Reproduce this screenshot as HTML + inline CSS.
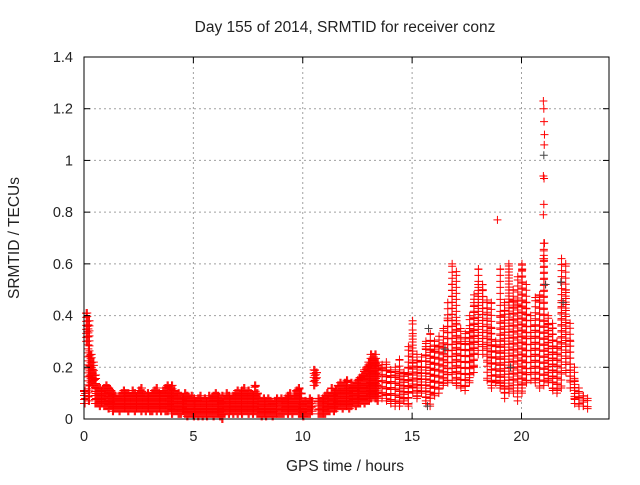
<!DOCTYPE html>
<html><head><meta charset="utf-8"><style>
body{margin:0;background:#fff;}
svg text{font-family:"Liberation Sans",sans-serif;font-size:14.5px;fill:#222;}
svg text.big{font-size:15.5px;}
</style></head><body>
<svg id="chart" width="640" height="480">
<text class="big" x="345" y="32" text-anchor="middle">Day 155 of 2014, SRMTID for receiver conz</text>
<text class="big" x="345" y="471" text-anchor="middle">GPS time / hours</text>
<text class="big" transform="translate(19,238) rotate(-90)" text-anchor="middle">SRMTID / TECUs</text>
<g id="grid"></g><g id="marks"></g><g id="axes"></g>
</svg>
<script>
const xTicks=[0,5,10,15,20];
const yTicks=[0,0.2,0.4,0.6,0.8,1,1.2,1.4];
const yTickLabels=["0","0.2","0.4","0.6","0.8","1","1.2","1.4"];
const startHour=0, stepHour=0.1;
const srmtidHigh=[0.11,0.41,0.38,0.25,0.22,0.17,0.12,0.12,0.11,0.12,
0.13,0.12,0.11,0.10,0.09,0.08,0.09,0.10,0.11,0.10,
0.10,0.09,0.11,0.10,0.09,0.11,0.12,0.10,0.09,0.10,
0.09,0.10,0.11,0.12,0.10,0.09,0.11,0.12,0.13,0.12,
0.13,0.11,0.09,0.10,0.09,0.08,0.10,0.09,0.08,0.09,
0.08,0.07,0.08,0.09,0.07,0.08,0.07,0.09,0.08,0.09,
0.10,0.09,0.08,0.09,0.08,0.10,0.09,0.08,0.09,0.10,
0.11,0.10,0.11,0.12,0.10,0.11,0.10,0.09,0.13,0.10,
0.08,0.07,0.08,0.07,0.08,0.07,0.06,0.07,0.08,0.07,
0.08,0.07,0.08,0.09,0.10,0.08,0.10,0.11,0.12,0.10,
0.06,0.07,0.06,0.08,0.07,0.19,0.18,0.08,0.07,0.08,
0.09,0.10,0.09,0.12,0.10,0.11,0.13,0.14,0.13,0.14,
0.15,0.12,0.14,0.13,0.14,0.15,0.16,0.17,0.19,0.20,
0.22,0.25,0.24,0.25,0.22,0.20,0.21,0.22,0.20,0.19,
0.18,0.17,0.20,0.23,0.19,0.17,0.18,0.20,0.28,0.38,
0.33,0.25,0.22,0.20,0.24,0.28,0.30,0.27,0.33,0.30,
0.27,0.28,0.32,0.29,0.35,0.39,0.45,0.52,0.60,0.57,
0.38,0.35,0.31,0.30,0.33,0.35,0.40,0.45,0.48,0.52,
0.58,0.52,0.50,0.46,0.43,0.45,0.35,0.30,0.28,0.40,
0.58,0.45,0.42,0.60,0.58,0.50,0.46,0.44,0.55,0.60,
0.58,0.52,0.45,0.40,0.32,0.36,0.47,0.46,0.48,0.68,
0.62,0.40,0.37,0.37,0.35,0.30,0.28,0.45,0.62,0.60,
0.50,0.37,0.30,0.20,0.15,0.12,0.10,0.09,0.09,0.08];
const srmtidLow=[0.06,0.30,0.07,0.14,0.13,0.06,0.06,0.05,0.06,0.05,
0.05,0.04,0.05,0.03,0.04,0.04,0.03,0.04,0.04,0.04,
0.03,0.04,0.04,0.03,0.04,0.04,0.03,0.04,0.03,0.04,
0.03,0.03,0.04,0.03,0.04,0.03,0.04,0.03,0.03,0.04,
0.02,0.03,0.03,0.02,0.02,0.03,0.02,0.01,0.02,0.02,
0.01,0.02,0.01,0.02,0.01,0.02,0.01,0.02,0.02,0.01,
0.02,0.02,0.01,0.00,0.02,0.03,0.02,0.03,0.02,0.03,
0.02,0.03,0.02,0.03,0.03,0.02,0.03,0.02,0.03,0.02,
0.02,0.01,0.02,0.01,0.02,0.02,0.01,0.02,0.02,0.02,
0.02,0.02,0.03,0.02,0.03,0.02,0.03,0.03,0.02,0.02,
0.01,0.02,0.02,0.02,0.03,0.13,0.14,0.02,0.02,0.02,
0.02,0.03,0.03,0.04,0.03,0.04,0.05,0.05,0.04,0.05,
0.05,0.04,0.05,0.06,0.05,0.06,0.06,0.07,0.06,0.07,
0.07,0.08,0.09,0.08,0.07,0.08,0.09,0.08,0.07,0.06,
0.06,0.05,0.06,0.05,0.06,0.07,0.08,0.06,0.05,0.12,
0.10,0.08,0.09,0.12,0.10,0.07,0.06,0.05,0.08,0.10,
0.09,0.10,0.12,0.13,0.14,0.15,0.14,0.18,0.15,0.13,
0.14,0.13,0.12,0.11,0.13,0.14,0.16,0.18,0.20,0.25,
0.30,0.28,0.25,0.22,0.15,0.13,0.12,0.14,0.15,0.12,
0.13,0.10,0.08,0.12,0.10,0.15,0.10,0.07,0.12,0.10,
0.12,0.15,0.14,0.18,0.15,0.15,0.14,0.15,0.12,0.13,
0.15,0.15,0.14,0.12,0.11,0.10,0.11,0.12,0.28,0.22,
0.18,0.15,0.12,0.08,0.06,0.06,0.05,0.05,0.05,0.04];
const outlierHours=[18.9,21.0,21.02,21.03,21.05,21.04,21.0,21.03,21.02,21.0,21.05,21.02,21.0,21.1];
const outlierValues=[0.77,1.23,1.20,1.15,1.10,1.06,0.94,0.93,0.83,0.79,0.68,0.65,0.62,0.52];
const blackHours=[15.7,15.75,16.5,19.5,21.02,21.1,21.8,21.9];
const blackValues=[0.05,0.35,0.27,0.20,1.02,0.52,0.53,0.45];

const L=84,R=609,T=57,B=419,xMax=24,yMax=1.4;
const xs=h=>L+h/xMax*(R-L);
const ys=v=>B-v/yMax*(B-T);
const NS="http://www.w3.org/2000/svg";
function mk(tag,parent,attrs){const e=document.createElementNS(NS,tag);for(const k in attrs)e.setAttribute(k,attrs[k]);parent.appendChild(e);return e;}
const grid=document.getElementById('grid'),axes=document.getElementById('axes'),marks=document.getElementById('marks');
xTicks.forEach((t,i)=>{const x=xs(t);
 if(t>0){const g=mk('line',grid,{x1:x,x2:x,y1:T,y2:B,stroke:'#a0a0a0','stroke-dasharray':'2,3'});
 
 }
 mk('line',axes,{x1:x,x2:x,y1:B,y2:B-6,stroke:'#000'});mk('line',axes,{x1:x,x2:x,y1:T,y2:T+6,stroke:'#000'});
 const tx=mk('text',axes,{x:x,y:B+22,'text-anchor':'middle'});tx.textContent=String(t);
 
 });
yTicks.forEach((t,i)=>{const y=ys(t);
 if(t>0&&t<yMax){const g=mk('line',grid,{x1:L,x2:R,y1:y,y2:y,stroke:'#a0a0a0','stroke-dasharray':'2,3'});
 
 }
 mk('line',axes,{x1:L,x2:L+6,y1:y,y2:y,stroke:'#000'});mk('line',axes,{x1:R,x2:R-6,y1:y,y2:y,stroke:'#000'});
 const tx=mk('text',axes,{x:L-11,y:y+5,'text-anchor':'end'});tx.textContent=yTickLabels[i];
 
 });
const frame=mk('rect',axes,{x:L,y:T,width:R-L,height:B-T,fill:'none',stroke:'#000'});


let d='';
function plus(x,y){d+=`M${x-4},${y}h8M${x},${y-4}v8`;}
srmtidHigh.forEach((hi,i)=>{const lo=srmtidLow[i];const h=startHour+i*stepHour;
 const yl=ys(lo),yh=ys(hi);
 const late=h>=13.5;
 const cols=late?[0.03]:[0,0.05];
 cols.forEach((dx,k)=>{const x=xs(h+dx)+(late&&i%2?2:0);
  const step=late?6:(k?5:4);
  const off=late?(i%3)*2:0;
  for(let y=yl-off;y>=yh;y-=step)plus(x,y);
  plus(x,yl);plus(x,yh);});});
outlierHours.forEach((h,i)=>plus(xs(h),ys(outlierValues[i])));
const p=mk('path',marks,{d:d,stroke:'#ff0000','stroke-width':1,fill:'none'});


let db='';
blackHours.forEach((h,i)=>{const x=xs(h),y=ys(blackValues[i]);db+=`M${x-4},${y}h8M${x},${y-4}v8`;});
const pb=mk('path',marks,{d:db,stroke:'#444','stroke-width':1,fill:'none'});


</script>
</body></html>
